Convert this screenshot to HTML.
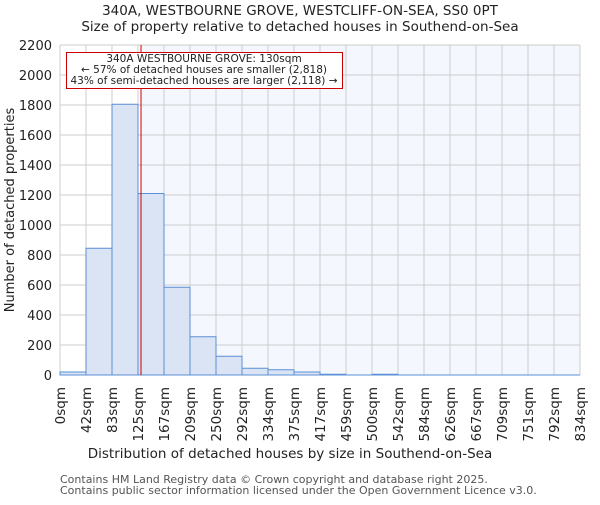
<!DOCTYPE html>
<html><head><meta charset="utf-8"><style>body{margin:0;background:#fff}</style></head><body>
<svg width="600" height="500" xmlns="http://www.w3.org/2000/svg" font-family="DejaVu Sans, Liberation Sans, sans-serif">
<rect width="600" height="500" fill="#fff"/>
<text x="300" y="15" font-size="13.5" text-anchor="middle" fill="#222">340A, WESTBOURNE GROVE, WESTCLIFF-ON-SEA, SS0 0PT</text>
<text x="300" y="31" font-size="13.5" text-anchor="middle" fill="#222">Size of property relative to detached houses in Southend-on-Sea</text>
<rect x="141" y="45" width="439" height="330" fill="#f4f7fe"/>
<g stroke="#cccccc" stroke-width="1" id="grid"></g>
<g id="bars"></g>
<line x1="141" y1="45" x2="141" y2="375" stroke="#cc0000" stroke-width="1"/>
<rect x="66.5" y="52.5" width="276" height="36" fill="#fff" stroke="#cc0000"/>
<text font-size="10.5" text-anchor="middle" fill="#222"><tspan x="204" y="62">340A WESTBOURNE GROVE: 130sqm</tspan><tspan x="204" y="73">← 57% of detached houses are smaller (2,818)</tspan><tspan x="204" y="84">43% of semi-detached houses are larger (2,118) →</tspan></text>
<g id="yt" font-size="13" text-anchor="end" fill="#222"></g>
<g id="xt" font-size="13.5" text-anchor="end" fill="#222"></g>
<text transform="translate(14,210) rotate(-90)" font-size="13" text-anchor="middle" fill="#222">Number of detached properties</text>
<text x="290" y="458" font-size="13.5" text-anchor="middle" fill="#222">Distribution of detached houses by size in Southend-on-Sea</text>
<text x="60" y="483" font-size="11" fill="#555">Contains HM Land Registry data © Crown copyright and database right 2025.</text>
<text x="60" y="494" font-size="11" fill="#555">Contains public sector information licensed under the Open Government Licence v3.0.</text>
</svg>
<script>
var ns="http://www.w3.org/2000/svg",s=document.querySelector('svg');
function el(t,a,p,txt){var e=document.createElementNS(ns,t);for(var k in a)e.setAttribute(k,a[k]);if(txt!=null)e.textContent=txt;(p||s).appendChild(e);return e;}
var g=document.getElementById('grid'),b=document.getElementById('bars'),yt=document.getElementById('yt'),xt=document.getElementById('xt');
var labs=["0sqm","42sqm","83sqm","125sqm","167sqm","209sqm","250sqm","292sqm","334sqm","375sqm","417sqm","459sqm","500sqm","542sqm","584sqm","626sqm","667sqm","709sqm","751sqm","792sqm","834sqm"];
var vals=[20,845,1805,1210,585,255,125,45,35,20,5,0,5,0,0,0,0,0,0,0];
for(var i=0;i<=11;i++){var y=375-i*200*0.15;el('line',{x1:60,x2:580,y1:y,y2:y},g);el('text',{x:52,y:y+5},yt,String(i*200));}
for(var i=0;i<=20;i++){var x=60+i*26;el('line',{x1:x,x2:x,y1:45,y2:375},g);el('text',{transform:'translate('+(x+5)+',387) rotate(-90)'},xt,labs[i]);}
for(var i=0;i<20;i++){var h=vals[i]*0.15;if(vals[i]>0)el('rect',{x:60+i*26,y:375-h,width:26,height:h,fill:'#dae4f4',stroke:'#5b8fd6','stroke-width':1},b);}
el('line',{x1:60,x2:580,y1:375,y2:375,stroke:'#5b8fd6'},b);
</script>
</body></html>
